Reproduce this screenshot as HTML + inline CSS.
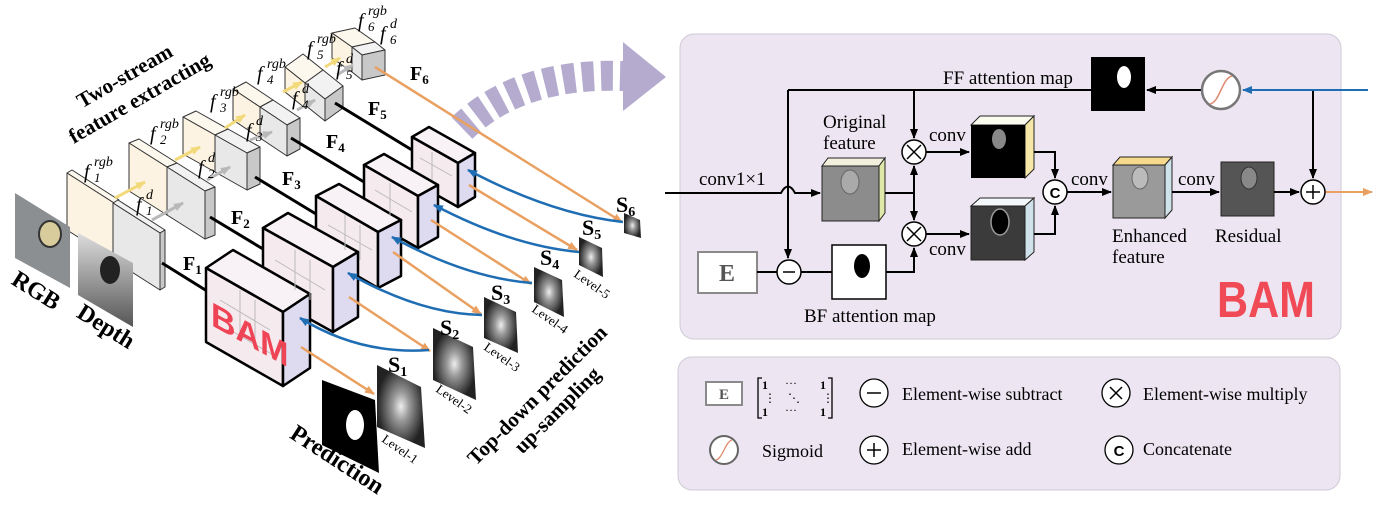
<!DOCTYPE html>
<html><head><meta charset="utf-8"><style>
html,body{margin:0;padding:0;background:#fff;}
svg{display:block;}
.s{font-family:"Liberation Serif",serif;}
</style></head><body>
<svg width="1377" height="514" viewBox="0 0 1377 514" xmlns="http://www.w3.org/2000/svg" class="s">
<defs>
<marker id="ak" markerWidth="10" markerHeight="10" refX="9" refY="5" orient="auto" markerUnits="userSpaceOnUse"><path d="M0,1 L10,5 L0,9z" fill="#000"/></marker>
<marker id="ao" markerWidth="10" markerHeight="10" refX="9" refY="5" orient="auto" markerUnits="userSpaceOnUse"><path d="M0,1 L10,5 L0,9z" fill="#e9a060"/></marker>
<marker id="ab" markerWidth="10" markerHeight="10" refX="9" refY="5" orient="auto" markerUnits="userSpaceOnUse"><path d="M0,1 L10,5 L0,9z" fill="#1f6db3"/></marker>
<marker id="ay" markerWidth="10" markerHeight="10" refX="9" refY="5" orient="auto" markerUnits="userSpaceOnUse"><path d="M0,1 L10,5 L0,9z" fill="#f2d97a"/></marker>
<marker id="ag" markerWidth="10" markerHeight="10" refX="9" refY="5" orient="auto" markerUnits="userSpaceOnUse"><path d="M0,1 L10,5 L0,9z" fill="#b8b8b8"/></marker>
<linearGradient id="dep" x1="0" y1="0" x2="0" y2="1"><stop offset="0" stop-color="#ddd"/><stop offset="1" stop-color="#555"/></linearGradient>
<radialGradient id="sg"><stop offset="0" stop-color="#eee"/><stop offset="0.35" stop-color="#999"/><stop offset="1" stop-color="#222"/></radialGradient>
</defs>

<!-- big purple arrow -->
<path d="M462,128 Q520,72 625,76" fill="none" stroke="#b4abcf" stroke-width="30" stroke-dasharray="12,7"/>
<polygon points="623,42 666,77 623,111" fill="#b4abcf"/>

<!-- encoder stages back to front -->
<g stroke="#333" stroke-width="1" stroke-linejoin="round">
<!-- stage6 -->
<polygon points="332,33 352,47 375,42 355,28" fill="#fdf8ee"/>
<polygon points="332,33 352,47 352,72 332,58" fill="#fdf3e2"/>
<polygon points="352,47 362,55 385,50 375,42" fill="#f2f2f2"/>
<polygon points="352,47 362,55 362,80 352,72" fill="#e8e8e8"/>
<polygon points="362,55 385,50 385,75 362,80" fill="#c8c8c8"/>
<!-- stage5 -->
<polygon points="285,67 305,83 323,70 303,54" fill="#fdf8ee"/>
<polygon points="285,67 305,83 305,108 285,92" fill="#fdf3e2"/>
<polygon points="305,83 325,99 343,86 323,70" fill="#f2f2f2"/>
<polygon points="305,83 325,99 325,121 305,105" fill="#e8e8e8"/>
<polygon points="325,99 343,86 343,108 325,121" fill="#c8c8c8"/>
<!-- stage4 -->
<polygon points="233,89 260,107 273,100 246,82" fill="#fdf8ee"/>
<polygon points="233,89 260,107 260,138 233,120" fill="#fdf3e2"/>
<polygon points="260,107 287,125 300,118 273,100" fill="#f2f2f2"/>
<polygon points="260,107 287,125 287,156 260,138" fill="#e8e8e8"/>
<polygon points="287,125 300,118 300,149 287,156" fill="#c8c8c8"/>
<!-- stage3 -->
<polygon points="183,117 215,135 228,129 196,111" fill="#fdf8ee"/>
<polygon points="183,117 215,135 215,172 183,154" fill="#fdf3e2"/>
<polygon points="215,135 247,153 260,147 228,129" fill="#f2f2f2"/>
<polygon points="215,135 247,153 247,190 215,172" fill="#e8e8e8"/>
<polygon points="247,153 260,147 260,184 247,190" fill="#c8c8c8"/>
<!-- stage2 -->
<polygon points="129,143 167,167 177,163 139,139" fill="#fdf8ee"/>
<polygon points="129,143 167,167 167,215 129,191" fill="#fdf3e2"/>
<polygon points="167,167 205,191 215,187 177,163" fill="#f2f2f2"/>
<polygon points="167,167 205,191 205,239 167,215" fill="#e8e8e8"/>
<polygon points="205,191 215,187 215,235 205,239" fill="#c8c8c8"/>
<!-- stage1 -->
<polygon points="67,173 114,203 119,200 72,170" fill="#fdf8ee"/>
<polygon points="67,173 114,203 114,260 67,230" fill="#fdf3e2"/>
<polygon points="113,203 160,233 165,230 118,200" fill="#f2f2f2"/>
<polygon points="113,203 160,233 160,290 113,260" fill="#e8e8e8"/>
<polygon points="160,233 165,230 165,287 160,290" fill="#c8c8c8"/>
</g>

<!-- yellow / gray arrows -->
<g stroke-width="3" fill="none">
<path d="M115,198 L145,182" stroke="#f2d97a" marker-end="url(#ay)"/>
<path d="M175,160 L200,147" stroke="#f2d97a" marker-end="url(#ay)"/>
<path d="M225,128 L245,115" stroke="#f2d97a" marker-end="url(#ay)"/>
<path d="M283,92 L302,82" stroke="#f2d97a" marker-end="url(#ay)"/>
<path d="M325,67 L340,58" stroke="#f2d97a" marker-end="url(#ay)"/>
<path d="M152,220 L183,203" stroke="#b8b8b8" marker-end="url(#ag)"/>
<path d="M207,180 L230,167" stroke="#b8b8b8" marker-end="url(#ag)"/>
<path d="M250,140 L272,132" stroke="#b8b8b8" marker-end="url(#ag)"/>
<path d="M297,110 L315,100" stroke="#b8b8b8" marker-end="url(#ag)"/>
<path d="M337,75 L353,65" stroke="#b8b8b8" marker-end="url(#ag)"/>
</g>

<!-- RGB & depth images -->
<polygon points="15,193 70,227 70,288 15,258" fill="#8c8f92"/>
<ellipse cx="50" cy="234" rx="11" ry="13" fill="#d9cc9c" stroke="#333" stroke-width="2"/>
<polygon points="78,233 133,263 133,327 78,295" fill="url(#dep)"/>
<ellipse cx="110" cy="270" rx="10" ry="14" fill="#222"/>

<!-- F lines -->
<g stroke="#000" stroke-width="3">
<line x1="162" y1="263" x2="207" y2="291"/>
<line x1="210" y1="217" x2="263" y2="249"/>
<line x1="255" y1="177" x2="316" y2="214"/>
<line x1="291" y1="138" x2="364" y2="182"/>
<line x1="335" y1="103" x2="412" y2="150"/>
</g>
<line x1="375" y1="67" x2="622" y2="222" stroke="#e9a060" stroke-width="2.5" marker-end="url(#ao)"/>

<!-- decoder cubes -->
<g stroke="#000" stroke-width="2.5" stroke-linejoin="round">
<polygon points="412,137 458,163 475,153 429,127" fill="#f8f2f6"/>
<polygon points="412,137 458,163 458,207 412,181" fill="#f5eaee"/>
<polygon points="458,163 475,153 475,197 458,207" fill="#dedaf0"/>
<polygon points="364,165 418,196 438,185 384,154" fill="#f8f2f6"/>
<polygon points="364,165 418,196 418,248 364,217" fill="#f5eaee"/>
<polygon points="418,196 438,185 438,237 418,248" fill="#dedaf0"/>
<polygon points="316,196 378,232 401,220 339,184" fill="#f8f2f6"/>
<polygon points="316,196 378,232 378,288 316,252" fill="#f5eaee"/>
<polygon points="378,232 401,220 401,276 378,288" fill="#dedaf0"/>
<polygon points="263,228 333,267 358,252 288,213" fill="#f8f2f6"/>
<polygon points="263,228 333,267 333,332 263,293" fill="#f5eaee"/>
<polygon points="333,267 358,252 358,317 333,332" fill="#dedaf0"/>
<polygon points="206,268 283,312 310,294 233,250" fill="#f8f2f6"/>
<polygon points="206,268 283,312 283,386 206,342" fill="#f5eaee"/>
<polygon points="283,312 310,294 310,368 283,386" fill="#dedaf0"/>
</g>
<!-- faint interiors -->
<g stroke="#bbb" stroke-width="1" fill="none">
<path d="M220,300 L270,330 M240,290 L240,335 M255,300 L255,345 M230,330 L275,356"/>
<path d="M275,260 L325,290 M295,250 L295,290 M310,260 L310,300"/>
<path d="M328,225 L372,250 M345,215 L345,250 M360,225 L360,260"/>
<path d="M375,190 L412,212 M390,183 L390,215"/>
<path d="M420,158 L452,176 M432,152 L432,180"/>
</g>
<text x="0" y="0" font-family="Liberation Sans,sans-serif" font-weight="bold" font-size="34" fill="#ee4455" transform="matrix(1,0.55,0,1,211,325)">BAM</text>

<!-- S images -->
<polygon points="322,380 375,400 379,473 322,445" fill="#000"/>
<ellipse cx="355" cy="425" rx="9" ry="15" fill="#fff"/>
<polygon points="377,365 421,387 425,448 377,427" fill="url(#sg)"/>
<polygon points="433,328 473,347 476,400 433,380" fill="url(#sg)"/>
<polygon points="484,297 516,312 518,353 484,338" fill="url(#sg)"/>
<polygon points="534,267 562,280 564,317 534,302" fill="url(#sg)"/>
<polygon points="579,237 602,248 603,277 579,265" fill="url(#sg)"/>
<polygon points="624,213 640,220 641,238 624,233" fill="url(#sg)"/>

<!-- orange S lines -->
<g stroke="#e9a060" stroke-width="2.5" marker-end="url(#ao)">
<line x1="301" y1="347" x2="374" y2="394"/>
<line x1="349" y1="297" x2="430" y2="351"/>
<line x1="393" y1="252" x2="481" y2="314"/>
<line x1="431" y1="220" x2="531" y2="284"/>
<line x1="469" y1="185" x2="577" y2="250"/>
</g>
<!-- blue curves -->
<g stroke="#1f6db3" stroke-width="2.5" fill="none" marker-end="url(#ab)">
<path d="M429,350 Q360,355 300,318"/>
<path d="M482,315 Q420,314 348,273"/>
<path d="M532,283 Q467,278 392,237"/>
<path d="M579,252 Q512,246 434,205"/>
<path d="M623,222 Q551,214 468,170"/>
</g>

<!-- left labels -->
<g font-weight="bold" font-size="20">
<text x="183" y="270">F<tspan font-size="13" dy="4">1</tspan></text>
<text x="231" y="224">F<tspan font-size="13" dy="4">2</tspan></text>
<text x="282" y="185">F<tspan font-size="13" dy="4">3</tspan></text>
<text x="326" y="148">F<tspan font-size="13" dy="4">4</tspan></text>
<text x="368" y="115">F<tspan font-size="13" dy="4">5</tspan></text>
<text x="410" y="80">F<tspan font-size="13" dy="4">6</tspan></text>
<text x="388" y="372" font-size="22">S<tspan font-size="14" dy="4">1</tspan></text>
<text x="440" y="335" font-size="22">S<tspan font-size="14" dy="4">2</tspan></text>
<text x="491" y="300" font-size="22">S<tspan font-size="14" dy="4">3</tspan></text>
<text x="540" y="265" font-size="22">S<tspan font-size="14" dy="4">4</tspan></text>
<text x="582" y="235" font-size="22">S<tspan font-size="14" dy="4">5</tspan></text>
<text x="616" y="212" font-size="22">S<tspan font-size="14" dy="4">6</tspan></text>
</g>
<g font-style="italic" font-size="20">
<text x="84" y="178">f<tspan font-size="14" x="94" y="166">rgb</tspan><tspan font-size="13" x="94" y="182">1</tspan></text>
<text x="136" y="211">f<tspan font-size="14" x="146" y="199">d</tspan><tspan font-size="13" x="146" y="215">1</tspan></text>
<text x="150" y="140">f<tspan font-size="14" x="160" y="128">rgb</tspan><tspan font-size="13" x="160" y="144">2</tspan></text>
<text x="198" y="174">f<tspan font-size="14" x="208" y="162">d</tspan><tspan font-size="13" x="208" y="178">2</tspan></text>
<text x="210" y="108">f<tspan font-size="14" x="220" y="96">rgb</tspan><tspan font-size="13" x="220" y="112">3</tspan></text>
<text x="246" y="137">f<tspan font-size="14" x="256" y="125">d</tspan><tspan font-size="13" x="256" y="141">3</tspan></text>
<text x="257" y="80">f<tspan font-size="14" x="267" y="68">rgb</tspan><tspan font-size="13" x="267" y="84">4</tspan></text>
<text x="292" y="105">f<tspan font-size="14" x="302" y="93">d</tspan><tspan font-size="13" x="302" y="109">4</tspan></text>
<text x="307" y="55">f<tspan font-size="14" x="317" y="43">rgb</tspan><tspan font-size="13" x="317" y="59">5</tspan></text>
<text x="336" y="75">f<tspan font-size="14" x="346" y="63">d</tspan><tspan font-size="13" x="346" y="79">5</tspan></text>
<text x="358" y="27">f<tspan font-size="14" x="368" y="15">rgb</tspan><tspan font-size="13" x="368" y="31">6</tspan></text>
<text x="380" y="40">f<tspan font-size="14" x="390" y="28">d</tspan><tspan font-size="13" x="390" y="44">6</tspan></text>
</g>
<g font-weight="bold" font-size="21" text-anchor="middle">
<text transform="translate(128,82) rotate(-30)">Two-stream</text>
<text transform="translate(143,104) rotate(-30)">feature extracting</text>
<text font-size="24" transform="translate(32,297) rotate(32)">RGB</text>
<text font-size="24" transform="translate(102,333) rotate(32)">Depth</text>
<text font-size="24" transform="translate(333,466) rotate(33)">Prediction</text>
<text transform="translate(542,400) rotate(-45)">Top-down prediction</text>
<text transform="translate(562,415) rotate(-45)">up-sampling</text>
</g>
<g font-size="13">
<text transform="translate(381,441) rotate(35)">Level-1</text>
<text transform="translate(435,391) rotate(35)">Level-2</text>
<text transform="translate(483,349) rotate(35)">Level-3</text>
<text transform="translate(531,311) rotate(35)">Level-4</text>
<text transform="translate(573,276) rotate(35)">Level-5</text>
</g>

<!-- ===== BAM panel ===== -->
<rect x="680" y="34" width="661" height="305" rx="14" fill="#ede6f2" stroke="#cfcad6" stroke-width="1"/>
<rect x="678" y="357" width="662" height="133" rx="14" fill="#ede6f2" stroke="#cfcad6" stroke-width="1"/>

<!-- images -->
<rect x="1091" y="57" width="54" height="54" fill="#000"/>
<ellipse cx="1124" cy="77" rx="7" ry="11" fill="#fff"/>
<rect x="832" y="245" width="54" height="54" fill="#fff" stroke="#000" stroke-width="1.5"/>
<ellipse cx="862" cy="266" rx="8" ry="12" fill="#000"/>
<rect x="698" y="252" width="59" height="41" fill="#fff" stroke="#8a8a8a" stroke-width="2"/>
<text x="727" y="281" text-anchor="middle" font-weight="bold" font-size="24" fill="#555">E</text>
<!-- original feature cube -->
<polygon points="822,166 879,166 885,158 828,158" fill="#f2f0dc" stroke="#222" stroke-width="1"/>
<polygon points="879,166 885,158 885,213 879,221" fill="#dfe8a8" stroke="#222" stroke-width="1"/>
<rect x="822" y="166" width="57" height="55" fill="#8c8c8c" stroke="#222" stroke-width="1"/>
<ellipse cx="850" cy="182" rx="9" ry="12" fill="#aaa" stroke="#666"/>
<!-- top conv cube -->
<polygon points="971,125 1025,125 1034,116 980,116" fill="#fbfbf0" stroke="#222" stroke-width="1"/>
<polygon points="1025,125 1034,116 1034,169 1025,178" fill="#f6e7a6" stroke="#222" stroke-width="1"/>
<rect x="971" y="125" width="54" height="53" fill="#000"/>
<ellipse cx="999" cy="139" rx="7" ry="10" fill="#888"/>
<!-- bottom conv cube -->
<polygon points="971,206 1025,206 1034,198 980,198" fill="#f5f8fa" stroke="#222" stroke-width="1"/>
<polygon points="1025,206 1034,198 1034,252 1025,260" fill="#cfe1ea" stroke="#222" stroke-width="1"/>
<rect x="971" y="206" width="54" height="54" fill="#3b3b3b" stroke="#222" stroke-width="1"/>
<ellipse cx="1000" cy="222" rx="9" ry="13" fill="#000" stroke="#999" stroke-width="1.5"/>
<!-- enhanced cube -->
<polygon points="1113,165 1165,165 1172,157 1120,157" fill="#f6d98a" stroke="#222" stroke-width="1"/>
<polygon points="1165,165 1172,157 1172,210 1165,218" fill="#cfe3ea" stroke="#222" stroke-width="1"/>
<rect x="1113" y="165" width="52" height="53" fill="#9a9a9a" stroke="#222" stroke-width="1"/>
<ellipse cx="1140" cy="178" rx="8" ry="11" fill="#bbb" stroke="#666"/>
<!-- residual -->
<rect x="1221" y="162" width="53" height="54" fill="#555" stroke="#222" stroke-width="1"/>
<ellipse cx="1249" cy="178" rx="8" ry="11" fill="#888" stroke="#333"/>

<!-- connectors -->
<g stroke="#000" stroke-width="2" fill="none">
<path d="M665,193 H781 Q788,180 795,193 H820" marker-end="url(#ak)"/>
<path d="M788,90 V258" marker-end="url(#ak)"/>
<path d="M788,90 H1091"/>
<path d="M1201,90 H1147" marker-end="url(#ak)"/>
<path d="M1313,90 V178" marker-end="url(#ak)"/>
<path d="M914,90 V138" marker-end="url(#ak)"/>
<path d="M885,193 H914"/>
<path d="M914,193 V166" marker-end="url(#ak)"/>
<path d="M914,193 V220" marker-end="url(#ak)"/>
<path d="M926,152 H969" marker-end="url(#ak)"/>
<path d="M926,234 H969" marker-end="url(#ak)"/>
<path d="M1034,152 H1055 V178" marker-end="url(#ak)"/>
<path d="M1034,234 H1055 V206" marker-end="url(#ak)"/>
<path d="M1067,192 H1111" marker-end="url(#ak)"/>
<path d="M1172,192 H1219" marker-end="url(#ak)"/>
<path d="M1274,192 H1299" marker-end="url(#ak)"/>
<path d="M757,272 H777"/>
<path d="M801,272 H832"/>
<path d="M886,272 H914 V248" marker-end="url(#ak)"/>
</g>
<path d="M1368,90 H1243" stroke="#1f6db3" stroke-width="2" marker-end="url(#ab)"/>
<path d="M1325,192 H1372" stroke="#e9a060" stroke-width="2" marker-end="url(#ao)"/>

<!-- operators -->
<g fill="#fff" stroke="#000" stroke-width="1.5">
<circle cx="914" cy="152" r="12"/><circle cx="914" cy="234" r="12"/>
<circle cx="1055" cy="192" r="12"/><circle cx="1313" cy="192" r="12"/>
<circle cx="789" cy="272" r="12"/>
</g>
<circle cx="1221" cy="90" r="19" fill="#fff" stroke="#777" stroke-width="2.5"/>
<path d="M1210,104 C1220,102 1222,78 1232,76" stroke="#e08a70" stroke-width="1.5" fill="none"/>
<g stroke="#000" stroke-width="1.5">
<path d="M907,145 L921,159 M921,145 L907,159"/>
<path d="M907,227 L921,241 M921,227 L907,241"/>
<path d="M1306,192 H1320 M1313,185 V199"/>
<path d="M783,272 H795"/>
</g>
<text x="1055" y="198" text-anchor="middle" font-family="Liberation Sans,sans-serif" font-weight="bold" font-size="15">C</text>

<!-- panel text -->
<g font-size="19">
<text x="943" y="84">FF attention map</text>
<text x="823" y="128">Original</text>
<text x="823" y="149">feature</text>
<text x="929" y="141">conv</text>
<text x="929" y="255">conv</text>
<text x="699" y="185">conv1×1</text>
<text x="1071" y="185">conv</text>
<text x="1178" y="185">conv</text>
<text x="1112" y="242">Enhanced</text>
<text x="1112" y="263">feature</text>
<text x="1215" y="242">Residual</text>
<text x="804" y="322">BF attention map</text>
</g>
<text x="1217" y="317" font-family="Liberation Sans,sans-serif" font-weight="bold" font-size="51" fill="#ef4a55" textLength="98" lengthAdjust="spacingAndGlyphs">BAM</text>

<!-- legend -->
<rect x="706" y="382" width="36" height="23" fill="#fff" stroke="#8a8a8a" stroke-width="2"/>
<text x="724" y="399" text-anchor="middle" font-weight="bold" font-size="15" fill="#555">E</text>
<path d="M762,378 H758 V418 H762 M828,378 H832 V418 H828" stroke="#000" stroke-width="1.3" fill="none"/>
<g font-size="12" font-weight="bold">
<text x="762" y="389">1</text><text x="820" y="389">1</text>
<text x="762" y="416">1</text><text x="820" y="416">1</text>
<text x="785" y="387" font-weight="normal">···</text><text x="785" y="414" font-weight="normal">···</text>
<text x="764" y="402" font-weight="normal">⋮</text><text x="788" y="402" font-weight="normal">⋱</text><text x="822" y="402" font-weight="normal">⋮</text>
</g>
<g fill="#fff" stroke="#000" stroke-width="1.3">
<circle cx="874" cy="393" r="14"/><circle cx="1116" cy="393" r="14"/>
<circle cx="874" cy="450" r="14"/><circle cx="1119" cy="450" r="14"/>
</g>
<circle cx="724" cy="450" r="14" fill="#fff" stroke="#666" stroke-width="2"/>
<path d="M716,460 C723,458 725,442 732,440" stroke="#e08a70" stroke-width="1.3" fill="none"/>
<g stroke="#000" stroke-width="1.5">
<path d="M867,393 H881"/>
<path d="M1110,387 L1122,399 M1122,387 L1110,399"/>
<path d="M867,450 H881 M874,443 V457"/>
</g>
<text x="1119" y="456" text-anchor="middle" font-family="Liberation Sans,sans-serif" font-weight="bold" font-size="15">C</text>
<g font-size="18">
<text x="902" y="400">Element-wise subtract</text>
<text x="1143" y="400">Element-wise multiply</text>
<text x="762" y="457">Sigmoid</text>
<text x="902" y="455">Element-wise add</text>
<text x="1143" y="455">Concatenate</text>
</g>
</svg>
</body></html>
